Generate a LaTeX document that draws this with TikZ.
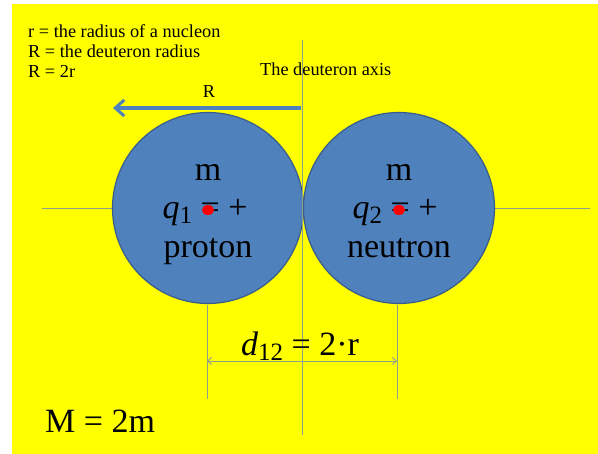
\documentclass[tikz,border=0pt]{standalone}
\usepackage{fontspec}
\setmainfont{Liberation Serif}
\usetikzlibrary{arrows.meta,shapes.geometric}
\definecolor{bgyellow}{RGB}{255,255,0}
\definecolor{nucfill}{RGB}{79,129,189}
\definecolor{nucline}{RGB}{56,93,138}
\definecolor{axisline}{RGB}{140,160,140}
\newcommand{\subsc}[1]{\raisebox{-0.12em}{\fontsize{25}{25}\selectfont #1}}
\begin{document}
\begin{tikzpicture}[x=1pt,y=-1pt,
  nucleon/.style={circle,draw=nucline,line width=1.2pt,fill=nucfill,minimum size=191pt,inner sep=0pt},
  thinaxis/.style={draw=axisline,line width=0.9pt},
  legend/.style={font=\fontsize{18.3}{22}\selectfont,anchor=base west,inner sep=0pt},
  bigtext/.style={font=\fontsize{34}{40}\selectfont,inner sep=0pt,anchor=base},
  reddot/.style={ellipse,fill=red,minimum width=12pt,minimum height=10pt,inner sep=0pt}
]
\useasboundingbox (0,0) rectangle (598,454);
\fill[white] (0,0) rectangle (598,454);
\fill[bgyellow] (12,4) rectangle (598,454);

% axes
\coordinate (hl) at (42,208);
\coordinate (hr) at (590,208);
\coordinate (vt) at (302,40);
\coordinate (vb) at (302,435);
\draw[thinaxis] (hl) -- (hr);

% nucleons
\node[nucleon] (p) at (208,208) {};
\node[nucleon] (n) at (399,208) {};
\draw[thinaxis] (vt) -- (vb);

% texts in circles
\node[bigtext] (pm) at (208,181) {m};
\node[bigtext] (pq) at (205,219) {\textit{q}\subsc{1} = +};
\node[bigtext] (pn) at (208,258) {proton};
\node[bigtext] (nm) at (399,181) {m};
\node[bigtext] (nq) at (395,219) {\textit{q}\subsc{2} = +};
\node[bigtext] (nn) at (399,258) {neutron};
\node[reddot] (pd) at (208,210) {};
\node[reddot] (nd) at (399,210) {};

% R arrow
\coordinate (ra) at (301,108);
\coordinate (rb) at (113,108);
\draw[draw=nucfill,line width=3.5pt,-{Straight Barb[length=9pt,width=16pt,line width=3pt]}] (ra) -- (rb);
\node[legend,anchor=base] (rl) at (209,98) {R};

% legend
\node[legend] (l1) at (28,38) {r = the radius of a nucleon};
\node[legend] (l2) at (28,58) {R = the deuteron radius};
\node[legend] (l3) at (28,78) {R = 2r};
\node[legend] (ax) at (260,76) {The deuteron axis};

% dimension
\coordinate (d1t) at (207,305);
\coordinate (d1b) at (207,399);
\coordinate (d2t) at (397,305);
\coordinate (d2b) at (397,399);
\coordinate (da) at (207,361);
\coordinate (db) at (397,361);
\draw[thinaxis] (d1t) -- (d1b);
\draw[thinaxis] (d2t) -- (d2b);
\draw[thinaxis,{Straight Barb[length=4pt,width=7pt]}-{Straight Barb[length=4pt,width=7pt]}] (da) -- (db);
\node[bigtext] (dl) at (300,356) {\textit{d}\subsc{12} = 2·r};

\node[bigtext,anchor=base west] (mm) at (45,433) {M = 2m};
\end{tikzpicture}
\end{document}
